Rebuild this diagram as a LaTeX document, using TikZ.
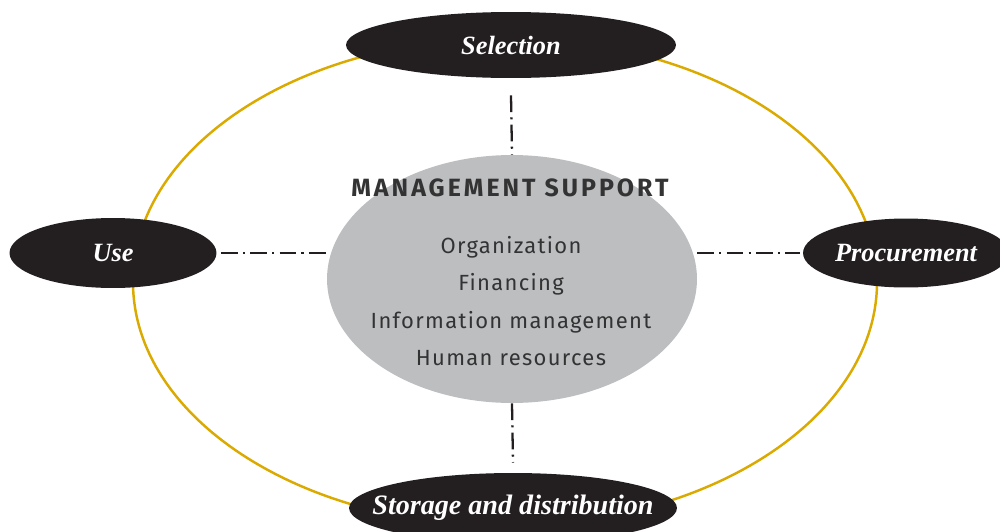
\documentclass[tikz,border=0pt]{standalone}
\usepackage{fontspec}
\setmainfont{Liberation Serif}
\newfontfamily\titlesans[LetterSpace=12]{Fira Sans}
\newfontfamily\listsans[LetterSpace=6]{Fira Sans}
\usetikzlibrary{shapes.geometric}
\definecolor{darkfill}{HTML}{231F20}
\definecolor{grayfill}{HTML}{BCBEC0}
\definecolor{goldline}{HTML}{DAAA00}
\definecolor{txtgray}{HTML}{333333}
\newcommand{\phasetext}[1]{\makebox[0pt]{#1}}
\tikzset{
  phase/.style={ellipse, fill=darkfill, inner sep=0pt, text=white,
    font=\fontsize{15}{18}\selectfont\bfseries\itshape},
  dashdotline/.style={draw=darkfill, line width=1.3pt,
    dash pattern=on 9.5pt off 3pt on 1.2pt off 3pt},
}
\begin{document}
\begin{tikzpicture}[x=0.02cm, y=-0.02cm]
\useasboundingbox (0,0) rectangle (1000,531);
% outer gold cycle
\draw[goldline, line width=1.4pt] (505,282) ellipse [x radius=372, y radius=244];
% central management support
\node[ellipse, fill=grayfill, minimum width=7.4cm, minimum height=4.96cm, inner sep=0pt] (ms) at (512,279) {};
\node[font=\titlesans\fontsize{14.2}{16}\selectfont\bfseries, text=txtgray] (mstitle) at (510,188) {MANAGEMENT SUPPORT};
\node[font=\listsans\fontsize{12.5}{21.4}\selectfont, text=txtgray, align=center] (mslist) at (511,301)
  {Organization\\Financing\\Information management\\Human resources};
% phases
\node[phase, minimum width=6.6cm, minimum height=1.32cm] (sel) at (511,45) {\phasetext{Selection}};
\node[phase, minimum width=4.14cm, minimum height=1.4cm] (use) at (113,253) {\phasetext{Use}};
\node[phase, minimum width=4.12cm, minimum height=1.38cm] (proc) at (906,253) {\phasetext{Procurement}};
\node[phase, minimum width=6.56cm, minimum height=1.4cm] (stor) at (513,508) {\phasetext{\fontsize{16}{18}\selectfont Storage and distribution}};
% dash-dot connectors
\draw[dashdotline] ([yshift=-0.34cm]sel.south) -- (ms.north);
\draw[dashdotline] (ms.south) -- ([yshift=0.2cm]stor.north);
\draw[dashdotline] ([xshift=0.08cm]use.east) -- (ms.west |- use.east);
\draw[dashdotline] (ms.east |- proc.west) -- ([xshift=-0.06cm]proc.west);
\end{tikzpicture}
\end{document}
